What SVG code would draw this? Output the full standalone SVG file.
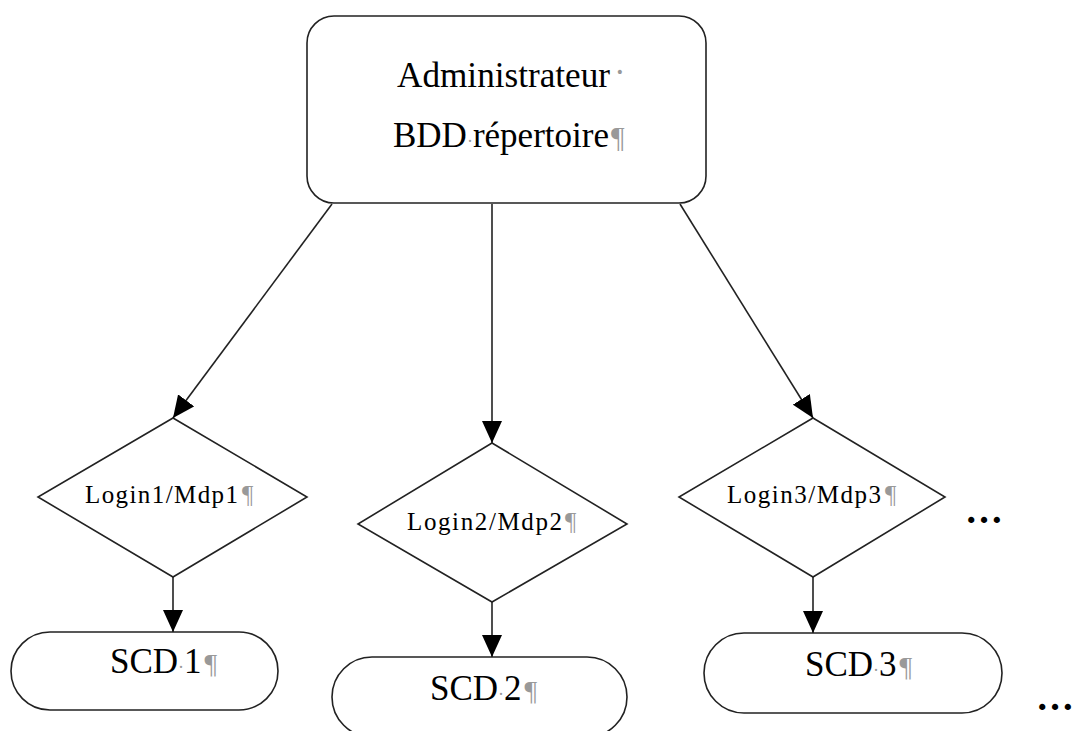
<svg xmlns="http://www.w3.org/2000/svg" width="1077" height="731" viewBox="0 0 1077 731">
<style>
.shape{fill:#fff;stroke:#222;stroke-width:1.6}
.conn{stroke:#222;stroke-width:1.6;fill:none}
.big{font-family:"Liberation Serif","Times New Roman",serif;font-size:35px;fill:#000}
.small{font-family:"Liberation Serif","Times New Roman",serif;font-size:25px;fill:#000}
.mark{fill:#999}
.dots{font-family:"Liberation Serif","Times New Roman",serif;font-size:38px;font-weight:bold;fill:#000}
</style>
<defs>
<marker id="arr" viewBox="0 0 22 20" refX="22" refY="10" markerWidth="22" markerHeight="20" markerUnits="userSpaceOnUse" orient="auto">
<path d="M0,0 L22,10 L0,20 Z" fill="#000"/>
</marker>
</defs>
<rect width="1077" height="731" fill="#fff"/>
<g id="admin">
<rect class="shape" x="307" y="16" width="399" height="187" rx="27"/>
<text class="big" x="397" y="87" textLength="213" lengthAdjust="spacingAndGlyphs">Administrateur</text>
<text class="big mark" x="614" y="84" font-size="18">·</text>
<text class="big" x="393" y="147">BDD<tspan class="mark" font-size="18">·</tspan>répertoire<tspan class="mark" font-size="30" dx="2">¶</tspan></text>
</g>
<g id="login1">
<polygon class="shape" points="173,418 307,497 173,577 38,497"/>
<text class="small" x="85" y="503" textLength="153" lengthAdjust="spacing">Login1/Mdp1</text>
<text class="small mark" x="242" y="503" font-size="24">¶</text>
</g>
<g id="login2">
<polygon class="shape" points="492,443 627,524 492,602 358,524"/>
<text class="small" x="407" y="530" textLength="155" lengthAdjust="spacing">Login2/Mdp2</text>
<text class="small mark" x="565" y="530" font-size="24">¶</text>
</g>
<g id="login3">
<polygon class="shape" points="813,418 945,497 813,577 679,497"/>
<text class="small" x="727" y="503" textLength="154" lengthAdjust="spacing">Login3/Mdp3</text>
<text class="small mark" x="885" y="503" font-size="24">¶</text>
</g>
<g id="scd1">
<rect class="shape" x="11" y="632" width="267" height="78" rx="39"/>
<text class="big" x="110" y="673">SCD<tspan class="mark" font-size="18">·</tspan>1<tspan class="mark" font-size="28" dx="3">¶</tspan></text>
</g>
<g id="scd2">
<rect class="shape" x="332" y="657" width="295" height="80" rx="40"/>
<text class="big" x="430" y="700">SCD<tspan class="mark" font-size="18">·</tspan>2<tspan class="mark" font-size="28" dx="3">¶</tspan></text>
</g>
<g id="scd3">
<rect class="shape" x="704" y="633" width="298" height="80" rx="40"/>
<text class="big" x="805" y="676">SCD<tspan class="mark" font-size="18">·</tspan>3<tspan class="mark" font-size="28" dx="3">¶</tspan></text>
</g>
<g id="ellipsis1"><text class="dots" x="965" y="523">…</text></g>
<g id="ellipsis2"><text class="dots" x="1036" y="710">…</text></g>
<g id="connectors">
<line class="conn" x1="332" y1="204" x2="173" y2="418" marker-end="url(#arr)"/>
<line class="conn" x1="492" y1="204" x2="492" y2="443" marker-end="url(#arr)"/>
<line class="conn" x1="680" y1="204" x2="813" y2="418" marker-end="url(#arr)"/>
<line class="conn" x1="173" y1="577" x2="173" y2="632" marker-end="url(#arr)"/>
<line class="conn" x1="492" y1="602" x2="492" y2="657" marker-end="url(#arr)"/>
<line class="conn" x1="813" y1="577" x2="813" y2="633" marker-end="url(#arr)"/>
</g>
</svg>
